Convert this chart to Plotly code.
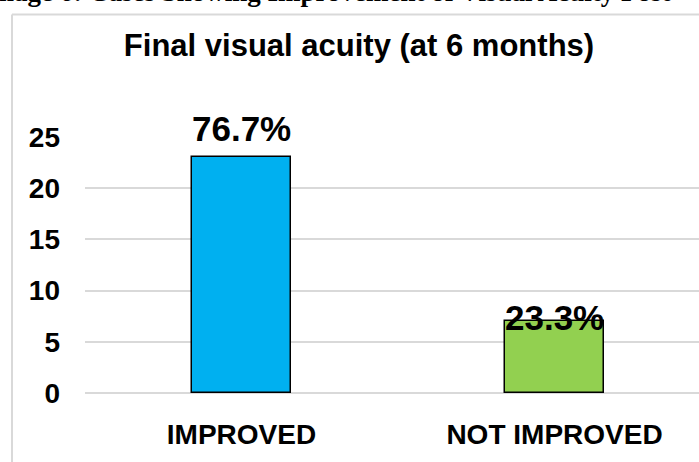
import plotly.graph_objects as go

categories = ["IMPROVED", "NOT IMPROVED"]
counts = [23, 7]
pct_labels = ["76.7%", "23.3%"]
bar_colors = ["#00B0F0", "#92D050"]
label_shift = [7, -18]  # pixel offsets of the data labels (style)
y_ticks = [0, 5, 10, 15, 20, 25]

W, H = 699, 462
L, R, T, B = 85, 0, 137, 69

fig = go.Figure()
fig.add_trace(go.Bar(
    x=categories, y=counts,
    marker=dict(color=bar_colors, line=dict(color="#000000", width=1.5)),
    width=0.315, showlegend=False, hoverinfo="skip",
))

for c, v, t, s in zip(categories, counts, pct_labels, label_shift):
    fig.add_annotation(x=c, y=v, xref="x", yref="y", text=t,
                       showarrow=False, yanchor="bottom", yshift=s,
                       font=dict(family="Arial", size=35, color="#000000", weight="bold"))

pw = W - L - R
ph = H - T - B
def px_x(x):
    return (x - L) / pw
def px_y(y):
    return (H - B - y) / ph

# chart box border (left and top edges)
fig.add_shape(type="line", xref="paper", yref="paper",
              x0=px_x(12), x1=px_x(720), y0=px_y(14.5), y1=px_y(14.5),
              line=dict(color="#D9D9D9", width=2))
fig.add_shape(type="line", xref="paper", yref="paper",
              x0=px_x(12), x1=px_x(12), y0=px_y(14.5), y1=px_y(480),
              line=dict(color="#D9D9D9", width=2))

# partially cropped caption above the chart
fig.add_annotation(xref="paper", yref="paper", x=px_x(-21), y=px_y(9),
                   xanchor="left", yanchor="bottom", showarrow=False,
                   text="Image 6: Cases Showing Improvement of Visual Acuity Post",
                   font=dict(family="Times New Roman", size=27, color="#000000", weight="bold"))

fig.update_layout(
    width=W, height=H,
    margin=dict(l=L, r=R, t=T, b=B, pad=0),
    paper_bgcolor="#FFFFFF", plot_bgcolor="#FFFFFF",
    title=dict(text="Final visual acuity (at 6 months)",
               x=359 / W, xanchor="center", y=1 - 45 / H, yanchor="middle",
               xref="container", yref="container",
               font=dict(family="Arial", size=31, color="#000000", weight="bold")),
    bargap=0.0,
)
fig.update_xaxes(range=[-0.5, -0.5 + pw / 313.0], showgrid=False, showline=False,
                 zeroline=False, ticks="", ticklabelstandoff=22,
                 tickfont=dict(family="Arial", size=28, color="#000000", weight="bold"))
fig.update_yaxes(range=[0, 25], tickvals=y_ticks, showgrid=True,
                 gridcolor="#D9D9D9", gridwidth=1.5, zeroline=True,
                 zerolinecolor="#D9D9D9", zerolinewidth=1.5, showline=False,
                 ticks="", ticklabelstandoff=24,
                 tickfont=dict(family="Arial", size=28, color="#000000", weight="bold"))

fig.write_html("out.html", config={"displayModeBar": False},
               post_script="document.body.style.margin='0';document.body.style.overflow='hidden';")
